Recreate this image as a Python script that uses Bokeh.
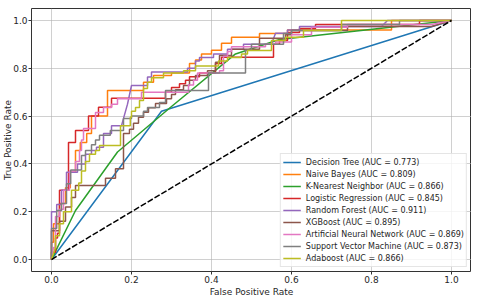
from bokeh.plotting import figure
from bokeh.models import FixedTicker, Legend, LegendItem
from bokeh.embed import file_html
from bokeh.resources import INLINE

# ---- data ----
model_names = ["Decision Tree", "Naive Bayes", "K-Nearest Neighbor", "Logistic Regression",
               "Random Forest", "XGBoost", "Artificial Neural Network",
               "Support Vector Machine", "Adaboost"]
auc_values = [0.773, 0.809, 0.866, 0.845, 0.911, 0.895, 0.869, 0.873, 0.866]
colors = ["#1f77b4", "#ff7f0e", "#2ca02c", "#d62728", "#9467bd",
          "#8c564b", "#e377c2", "#7f7f7f", "#bcbd22"]

dt_fpr = [0, 0.275, 1.0]
dt_tpr = [0, 0.62, 1.0]

nb_fpr = [0, 0, 0.005, 0.005, 0.02, 0.02, 0.035, 0.035, 0.047, 0.047, 0.06, 0.06, 0.072, 0.072,
          0.088, 0.088, 0.1, 0.1, 0.14, 0.14, 0.23, 0.23, 0.255, 0.255, 0.30, 0.30, 0.345, 0.345,
          0.36, 0.36, 0.375, 0.375, 0.40, 0.40, 0.425, 0.425, 0.45, 0.45, 0.52, 0.52, 0.59, 0.59,
          0.85, 0.85, 1.0]
nb_tpr = [0, 0.072, 0.072, 0.15, 0.15, 0.234, 0.234, 0.3, 0.3, 0.365, 0.365, 0.456, 0.456, 0.49,
          0.49, 0.527, 0.527, 0.6, 0.6, 0.707, 0.707, 0.742, 0.742, 0.77, 0.77, 0.78, 0.78, 0.82,
          0.82, 0.835, 0.835, 0.86, 0.86, 0.875, 0.875, 0.905, 0.905, 0.93, 0.93, 0.945, 0.945,
          0.96, 0.96, 1.0, 1.0]

knn_fpr = [0, 0.06, 0.165, 0.30, 0.46, 0.57, 1.0]
knn_tpr = [0, 0.205, 0.45, 0.64, 0.86, 0.92, 1.0]

lr_fpr = [0, 0, 0.01, 0.01, 0.015, 0.015, 0.02, 0.02, 0.0425, 0.0425, 0.06, 0.06, 0.0925, 0.0925,
          0.1175, 0.1175, 0.15, 0.15, 0.285, 0.285, 0.30, 0.30, 0.32, 0.32, 0.335, 0.335, 0.345,
          0.345, 0.37, 0.37, 0.41, 0.41, 0.425, 0.425, 0.555, 0.555, 0.57, 0.57, 0.59, 0.59, 0.62,
          0.62, 0.66, 0.66, 0.92, 0.92, 1.0]
lr_tpr = [0, 0.03, 0.03, 0.09, 0.09, 0.11, 0.11, 0.29, 0.29, 0.49, 0.49, 0.54, 0.54, 0.6, 0.6,
          0.637, 0.637, 0.675, 0.675, 0.70, 0.70, 0.72, 0.72, 0.735, 0.735, 0.75, 0.75, 0.765,
          0.765, 0.78, 0.78, 0.82, 0.82, 0.846, 0.846, 0.9, 0.9, 0.916, 0.916, 0.95, 0.95, 0.966,
          0.966, 0.983, 0.983, 1.0, 1.0]

rf_fpr = [0, 0, 0.013, 0.013, 0.025, 0.025, 0.0375, 0.0375, 0.065, 0.065, 0.085, 0.085, 0.1, 0.1,
          0.1125, 0.1125, 0.13, 0.13, 0.15, 0.15, 0.175, 0.19, 0.2, 0.24, 0.24, 0.25, 0.25, 0.34,
          0.34, 0.36, 0.36, 0.37, 0.37, 0.405, 0.405, 0.44, 0.44, 0.48, 0.48, 0.55, 0.56, 0.59,
          0.59, 0.62, 0.62, 0.825, 0.84, 1.0]
rf_tpr = [0, 0.2, 0.2, 0.23, 0.23, 0.29, 0.29, 0.365, 0.365, 0.40, 0.40, 0.44, 0.44, 0.456, 0.456,
          0.47, 0.47, 0.527, 0.527, 0.56, 0.56, 0.65, 0.728, 0.728, 0.763, 0.763, 0.784, 0.784,
          0.80, 0.80, 0.83, 0.83, 0.845, 0.845, 0.86, 0.86, 0.88, 0.88, 0.90, 0.90, 0.946, 0.946,
          0.96, 0.96, 0.975, 0.975, 1.0, 1.0]

xgb_fpr = [0, 0, 0.02, 0.02, 0.035, 0.035, 0.05, 0.05, 0.06, 0.06, 0.135, 0.135, 0.16, 0.16,
           0.18, 0.18, 0.195, 0.195, 0.205, 0.205, 0.2175, 0.2175, 0.23, 0.23, 0.2425, 0.2425,
           0.26, 0.26, 0.2875, 0.2875, 0.30, 0.30, 0.31, 0.31, 0.33, 0.33, 0.345, 0.345, 0.36,
           0.36, 0.39, 0.39, 0.41, 0.41, 0.42, 0.42, 0.45, 0.45, 0.52, 0.52, 0.585, 0.585, 0.6,
           0.6, 0.74, 0.74, 0.95, 1.0]
xgb_tpr = [0, 0.12, 0.12, 0.16, 0.16, 0.22, 0.22, 0.26, 0.26, 0.31, 0.31, 0.34, 0.34, 0.38, 0.38,
           0.527, 0.527, 0.545, 0.545, 0.57, 0.57, 0.595, 0.595, 0.616, 0.616, 0.635, 0.635,
           0.653, 0.653, 0.673, 0.673, 0.69, 0.69, 0.71, 0.71, 0.728, 0.728, 0.75, 0.75, 0.77,
           0.77, 0.79, 0.79, 0.825, 0.825, 0.853, 0.853, 0.88, 0.88, 0.926, 0.926, 0.94, 0.94,
           0.958, 0.958, 0.975, 0.975, 1.0]

ann_fpr = [0, 0.005, 0.01, 0.01, 0.02, 0.02, 0.03, 0.03, 0.045, 0.045, 0.06, 0.06, 0.07, 0.07,
           0.075, 0.075, 0.08, 0.08, 0.11, 0.11, 0.13, 0.13, 0.15, 0.15, 0.165, 0.165, 0.225,
           0.225, 0.3425, 0.3425, 0.355, 0.355, 0.365, 0.365, 0.42, 0.42, 0.43, 0.43, 0.44, 0.44,
           0.45, 0.45, 0.535, 0.535, 0.56, 0.56, 0.6, 0.6, 0.65, 0.65, 0.74, 0.74, 0.95, 1.0]
ann_tpr = [0, 0.05, 0.05, 0.18, 0.18, 0.21, 0.21, 0.29, 0.29, 0.37, 0.37, 0.41, 0.41, 0.456,
           0.456, 0.5, 0.5, 0.548, 0.548, 0.615, 0.615, 0.636, 0.636, 0.65, 0.65, 0.673, 0.673,
           0.70, 0.70, 0.73, 0.73, 0.75, 0.75, 0.78, 0.78, 0.79, 0.79, 0.85, 0.85, 0.87, 0.87,
           0.89, 0.89, 0.9, 0.9, 0.91, 0.91, 0.94, 0.94, 0.972, 0.972, 0.983, 0.983, 1.0]

svm_fpr = [0, 0, 0.013, 0.013, 0.025, 0.025, 0.0375, 0.0375, 0.048, 0.048, 0.075, 0.075, 0.085,
           0.085, 0.1, 0.1, 0.11, 0.11, 0.12, 0.12, 0.147, 0.147, 0.18, 0.18, 0.2, 0.2, 0.23,
           0.23, 0.24, 0.24, 0.27, 0.27, 0.285, 0.285, 0.3925, 0.3925, 0.485, 0.485, 0.5, 0.5,
           0.58, 0.58, 0.6, 0.6, 0.725, 0.725, 0.87, 0.87, 1.0]
svm_tpr = [0, 0.13, 0.13, 0.205, 0.205, 0.234, 0.234, 0.317, 0.317, 0.375, 0.375, 0.435, 0.435,
           0.456, 0.456, 0.48, 0.48, 0.5, 0.5, 0.52, 0.52, 0.54, 0.54, 0.59, 0.59, 0.6, 0.6,
           0.62, 0.62, 0.636, 0.636, 0.657, 0.657, 0.707, 0.707, 0.78, 0.78, 0.875, 0.875, 0.9,
           0.9, 0.945, 0.945, 0.958, 0.958, 0.983, 0.983, 1.0, 1.0]

ada_fpr = [0, 0.01, 0.01, 0.02, 0.02, 0.03, 0.03, 0.05, 0.05, 0.068, 0.068, 0.075, 0.075, 0.085,
           0.085, 0.095, 0.095, 0.11, 0.11, 0.12, 0.12, 0.1725, 0.1725, 0.197, 0.197, 0.2, 0.2,
           0.21, 0.21, 0.22, 0.22, 0.23, 0.23, 0.24, 0.24, 0.25, 0.25, 0.28, 0.28, 0.33, 0.33,
           0.36, 0.36, 0.4175, 0.4175, 0.44, 0.44, 0.475, 0.475, 0.49, 0.49, 0.55, 0.55, 0.585,
           0.585, 0.63, 0.63, 0.725, 0.725, 1.0]
ada_tpr = [0, 0.05, 0.1, 0.1, 0.15, 0.15, 0.2, 0.2, 0.29, 0.29, 0.32, 0.32, 0.37, 0.37, 0.41,
           0.41, 0.44, 0.44, 0.456, 0.456, 0.477, 0.477, 0.56, 0.56, 0.595, 0.595, 0.62, 0.62,
           0.636, 0.636, 0.665, 0.665, 0.715, 0.715, 0.742, 0.742, 0.76, 0.76, 0.78, 0.78, 0.79,
           0.79, 0.81, 0.81, 0.83, 0.83, 0.845, 0.845, 0.86, 0.86, 0.874, 0.874, 0.916, 0.916,
           0.93, 0.93, 0.958, 0.958, 1.0, 1.0]

chance_fpr = [0, 1]
chance_tpr = [0, 1]

tick_values = [0.0, 0.2, 0.4, 0.6, 0.8, 1.0]
tick_labels = ["0.0", "0.2", "0.4", "0.6", "0.8", "1.0"]

curves = [(dt_fpr, dt_tpr), (nb_fpr, nb_tpr), (knn_fpr, knn_tpr), (lr_fpr, lr_tpr),
          (rf_fpr, rf_tpr), (xgb_fpr, xgb_tpr), (ann_fpr, ann_tpr), (svm_fpr, svm_tpr),
          (ada_fpr, ada_tpr)]

FONT = "DejaVu Sans"
TXT = "#262626"
FS = "9px"

p = figure(frame_width=440, frame_height=263, x_range=(-0.05, 1.05), y_range=(-0.05, 1.05),
           output_backend="svg", toolbar_location=None, min_border_top=8, min_border_right=0,
           min_border_left=0, min_border_bottom=0, background_fill_color="white",
           border_fill_color="white")

p.outline_line_color = "#333333"
p.outline_line_width = 1

for ax in (p.xaxis[0], p.yaxis[0]):
    ax.ticker = FixedTicker(ticks=tick_values)
    ax.major_label_overrides = {v: s for v, s in zip(tick_values, tick_labels)}
    ax.major_label_text_font = FONT
    ax.major_label_text_font_size = FS
    ax.major_label_text_color = TXT
    ax.axis_label_text_font = FONT
    ax.axis_label_text_font_size = FS
    ax.axis_label_text_font_style = "normal"
    ax.axis_label_text_color = TXT
    ax.axis_line_color = None
    ax.major_tick_out = 3
    ax.major_tick_in = 0
    ax.major_tick_line_color = "#333333"
    ax.minor_tick_line_color = None
    ax.major_label_standoff = 1
    ax.axis_label_standoff = 1

p.yaxis[0].axis_label_standoff = -3

p.xaxis.axis_label = "False Positive Rate"
p.yaxis.axis_label = "True Positive Rate"

p.xgrid.ticker = FixedTicker(ticks=tick_values)
p.ygrid.ticker = FixedTicker(ticks=tick_values)
p.grid.grid_line_color = "#b0b0b0"
p.grid.grid_line_alpha = 0.6
p.grid.grid_line_width = 1

items = []
for (fx, fy), name, auc, col in zip(curves, model_names, auc_values, colors):
    r = p.line(fx, fy, line_color=col, line_width=1.5)
    items.append(LegendItem(label=f"{name} (AUC = {auc:.3f})", renderers=[r]))

p.line(chance_fpr, chance_tpr, line_color="black", line_width=1.5, line_dash="6 2")

legend = Legend(items=items, location="bottom_right")
legend.label_text_font = FONT
legend.label_text_font_size = "8px"
legend.label_text_color = TXT
legend.glyph_height = 12
legend.glyph_width = 18
legend.label_height = 12
legend.label_standoff = 5
legend.spacing = 0
legend.padding = 2
legend.margin = 4
legend.border_line_color = "#cccccc"
legend.border_line_width = 1
legend.background_fill_alpha = 0.8
p.add_layout(legend, "center")

open("out.html", "w").write(file_html(p, INLINE))
